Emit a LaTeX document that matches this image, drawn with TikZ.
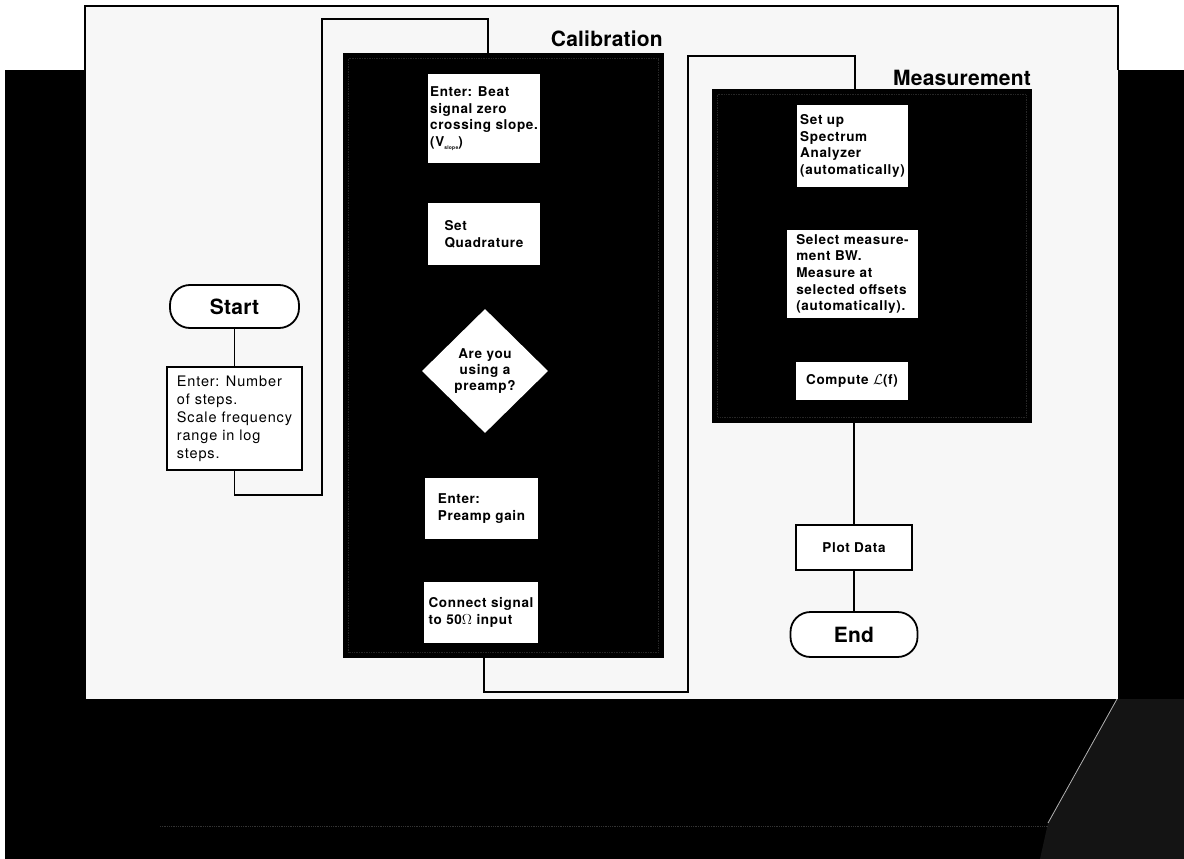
\documentclass[tikz,border=0pt]{standalone}
\usepackage{fontspec}
\usetikzlibrary{shapes.geometric}
\newfontfamily\hvB[LetterSpace=5]{TeX Gyre Heros}
\newfontfamily\hvR[LetterSpace=6]{TeX Gyre Heros}
\newfontfamily\hvT[LetterSpace=1]{TeX Gyre Heros}
\begin{document}
\begin{tikzpicture}[x=1pt,y=-1pt,
  wbox/.style={fill=white, inner sep=0pt, align=left,
    font=\hvB\bfseries\fontsize{13.5}{16.7}\selectfont},
  frame/.style={fill=black, inner sep=0pt},
  ibox/.style={fill=white, draw=black, line width=1.8pt, inner sep=0pt, align=left,
    font=\hvR\fontsize{14.5}{18}\selectfont},
  term/.style={fill=white, draw=black, line width=1.8pt, rounded corners=20pt, inner sep=0pt,
    font=\hvT\bfseries\fontsize{21}{24}\selectfont},
  title/.style={inner sep=0pt, font=\hvT\bfseries\fontsize{21}{24}\selectfont},
  conn/.style={draw=black, line width=1.8pt},
  speck/.style={draw=gray!30!black, densely dotted, line width=0.7pt}]
\useasboundingbox (0,0) rectangle (1184,859);
% background
\fill[white] (0,0) rectangle (1184,859);
\fill[black] (0,70) rectangle (1184,859);
\fill[white] (0,70) rectangle (5,859);
\fill[black!92] (1117,699) -- (1184,699) -- (1184,859) -- (1040,859) -- (1048,823) -- cycle;
\draw[gray!60, line width=0.8pt] (1117,699) -- (1048,823);
\draw[gray!40!black, densely dotted, line width=0.8pt] (160,826) -- (1048,826);
% panel
\fill[gray!6] (85,6) rectangle (1118,699);
\draw[black, line width=1.5pt] (85,699) -- (85,6) -- (1118,6) -- (1118,70);
% group frames
\node[frame, minimum width=321, minimum height=605] (calbox) at (503.5,355.5) {};
\node[frame, minimum width=320, minimum height=334] (measbox) at (872,256) {};
\draw[speck] ([shift={(6,6)}]calbox.north west) rectangle ([shift={(-6,-6)}]calbox.south east);
\draw[speck] ([shift={(6,6)}]measbox.north west) rectangle ([shift={(-6,-6)}]measbox.south east);
% titles
\node[title, anchor=base east] (caltitle) at (663,47) {Calibration};
\node[title, anchor=base east] (meastitle) at (1031,85) {Measurement};
% left column
\node[term, minimum width=129, minimum height=43] (start) at (234.5,306.5) {Start};
\node[ibox, minimum width=135, minimum height=103] (enterN) at (234.5,418.5)
  {Enter: Number\\of steps.\\Scale frequency\\range in log\\steps.};
% calibration
\node[wbox, minimum width=112, minimum height=89] (beat) at (484,118.5)
  {Enter: Beat\\signal zero\\crossing slope.\\(V\raisebox{-3pt}{\fontsize{5}{5}\selectfont slope})};
\node[wbox, minimum width=112, minimum height=62] (quad) at (484,234)
  {Set\\Quadrature};
\node[diamond, fill=white, inner sep=0pt, minimum width=126, minimum height=124, align=center,
  font=\hvB\bfseries\fontsize{13.5}{16.2}\selectfont] (preq) at (485,371)
  {Are you\\using a\\preamp?};
\node[wbox, minimum width=113, minimum height=61] (gain) at (481.5,508.5)
  {Enter:\\Preamp gain};
\node[wbox, minimum width=114, minimum height=61] (connect) at (481,612.5)
  {Connect signal\\to 50\(\Omega\) input};
% measurement
\node[wbox, minimum width=111, minimum height=82] (setup) at (852.5,146)
  {Set up\\Spectrum\\Analyzer\\(automatically)};
\node[wbox, minimum width=131, minimum height=88] (select) at (852.5,274)
  {Select measure-\\ment BW.\\Measure at\\selected offsets\\(automatically).};
\node[wbox, minimum width=112, minimum height=38] (compute) at (852,381)
  {Compute \(\mathcal{L}\)(f)};
\node[ibox, font=\hvB\bfseries\fontsize{13.5}{16.7}\selectfont, minimum width=116, minimum height=45] (plot) at (854,547.5)
  {Plot Data};
\node[term, minimum width=127, minimum height=45] (end) at (854,634.5) {End};
% connectors
\coordinate (la) at (322,495);
\coordinate (lb) at (322,19);
\coordinate (lc) at (488,19);
\coordinate (ra) at (484,692);
\coordinate (rb) at (688,692);
\coordinate (rc) at (688,56);
\coordinate (rd) at (855,56);
\draw[conn] (start.south) -- (start.south |- enterN.north);
\draw[conn] (enterN.south) |- (la) -- (lb) -- (lc) -- (lc |- calbox.north);
\draw[conn] (ra |- calbox.south) -- (ra) -- (rb) -- (rc) -- (rd) -- (rd |- measbox.north);
\draw[conn] (measbox.south -| plot.north) -- (plot.north);
\draw[conn] (plot.south) -- (end.north);
\end{tikzpicture}
\end{document}
